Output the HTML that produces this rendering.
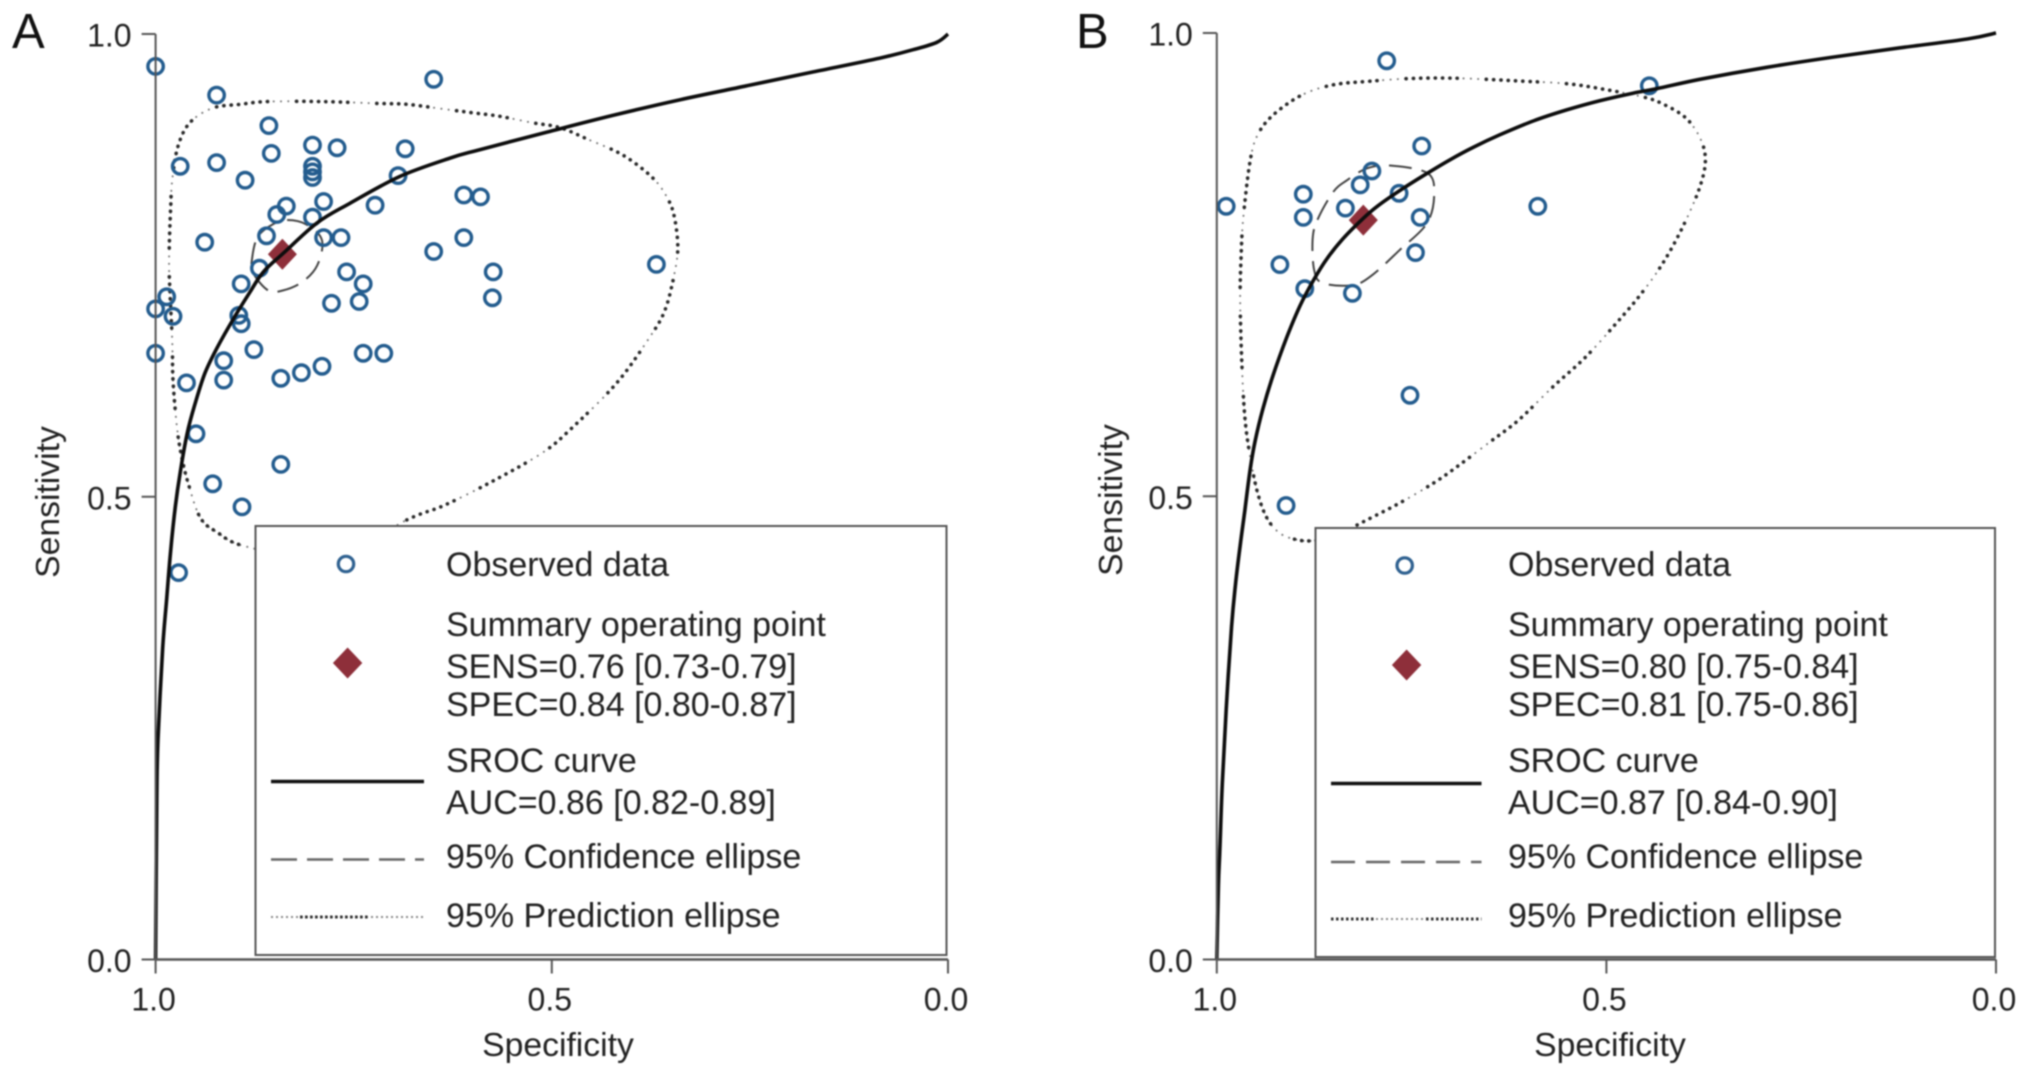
<!DOCTYPE html>
<html lang="en">
<head>
<meta charset="utf-8">
<title>SROC curves for panels A and B</title>
<style>
html,body{margin:0;padding:0;background:#fff;width:2032px;height:1077px;overflow:hidden}
svg{display:block;filter:blur(.7px)}
text{font-family:"Liberation Sans",sans-serif;fill:#222}
.tick{font-size:32px}
.title{font-size:33.7px}
.leg{font-size:34px}
.panel-letter{font-size:49px;fill:#111}
</style>
</head>
<body>
<svg id="chart" width="2032" height="1077" viewBox="0 0 2032 1077" xmlns="http://www.w3.org/2000/svg">
  <rect width="2032" height="1077" fill="#fff"/>

  <g id="panelA">
    <text class="panel-letter" x="12" y="48">A</text>
    <text class="title" transform="translate(59,502) rotate(-90)" text-anchor="middle">Sensitivity</text>
    <text class="title" x="558" y="1056" text-anchor="middle">Specificity</text>
    <g id="marksA"></g>
    <g>
      <rect x="255.5" y="526" width="691" height="429" fill="#fff" stroke="#555" stroke-width="2"/>
      <circle cx="346" cy="564" r="7.7" fill="none" stroke="#2f6190" stroke-width="3.2"/>
      <path d="M347.6 647.5L362.3 663L347.6 678.5L332.9 663Z" fill="#8e2f3a"/>
      <line x1="271" x2="424" y1="781.5" y2="781.5" stroke="#111" stroke-width="3.5"/>
      <line x1="271" x2="424" y1="859.5" y2="859.5" stroke="#666" stroke-width="2.5" stroke-dasharray="26 10"/>
      <line x1="271" x2="424" y1="917" y2="917" stroke="#888" stroke-width="2" stroke-dasharray="2 3"/>
      <line x1="300" x2="370" y1="917" y2="917" stroke="#333" stroke-width="3" stroke-dasharray="2.5 2.5"/>
      <text class="leg" x="446" y="576">Observed data</text>
      <text class="leg" x="446" y="636">Summary operating point</text>
      <text class="leg" x="446" y="678">SENS=0.76 [0.73-0.79]</text>
      <text class="leg" x="446" y="716">SPEC=0.84 [0.80-0.87]</text>
      <text class="leg" x="446" y="772">SROC curve</text>
      <text class="leg" x="446" y="814">AUC=0.86 [0.82-0.89]</text>
      <text class="leg" x="446" y="868">95% Confidence ellipse</text>
      <text class="leg" x="446" y="927">95% Prediction ellipse</text>
    </g>
    <g id="axesA"></g>
  </g>

  <g id="panelB">
    <text class="panel-letter" x="1076" y="48">B</text>
    <text class="title" transform="translate(1122,500) rotate(-90)" text-anchor="middle">Sensitivity</text>
    <text class="title" x="1610" y="1056" text-anchor="middle">Specificity</text>
    <g id="marksB"></g>
    <g>
      <rect x="1315.5" y="528" width="679.5" height="429" fill="#fff" stroke="#555" stroke-width="2"/>
      <circle cx="1404.7" cy="565.5" r="7.7" fill="none" stroke="#2f6190" stroke-width="3.2"/>
      <path d="M1406.6 649.5L1421.3 665L1406.6 680.5L1391.9 665Z" fill="#8e2f3a"/>
      <line x1="1331" x2="1481.5" y1="783.5" y2="783.5" stroke="#111" stroke-width="3.5"/>
      <line x1="1331" x2="1481.5" y1="862" y2="862" stroke="#666" stroke-width="2.5" stroke-dasharray="24 11"/>
      <line x1="1331" x2="1481.5" y1="919" y2="919" stroke="#888" stroke-width="2" stroke-dasharray="2 3"/>
      <line x1="1331" x2="1376" y1="919" y2="919" stroke="#333" stroke-width="3" stroke-dasharray="2.5 2.5"/>
      <line x1="1426" x2="1481.5" y1="919" y2="919" stroke="#333" stroke-width="3" stroke-dasharray="2.5 2.5"/>
      <text class="leg" x="1508" y="576">Observed data</text>
      <text class="leg" x="1508" y="636">Summary operating point</text>
      <text class="leg" x="1508" y="678">SENS=0.80 [0.75-0.84]</text>
      <text class="leg" x="1508" y="716">SPEC=0.81 [0.75-0.86]</text>
      <text class="leg" x="1508" y="772">SROC curve</text>
      <text class="leg" x="1508" y="814">AUC=0.87 [0.84-0.90]</text>
      <text class="leg" x="1508" y="868">95% Confidence ellipse</text>
      <text class="leg" x="1508" y="927">95% Prediction ellipse</text>
    </g>
    <g id="axesB"></g>
  </g>
</svg>

<script>
// Shared tick values and labels
const tickValues = [1.0, 0.5, 0.0];
const tickLabels = ["1.0", "0.5", "0.0"];

// Panel A: observed studies
const specA = [1.00,.923,.649,.857,.854,.802,.771,.685,.969,.923,.887,.802,.802,.802,.694,.611,.590,.788,.835,.847,.802,.723,.860,.788,.766,.938,.611,.649,.368,.869,.759,.574,.892,.738,.575,.986,.778,.743,1.00,.978,.895,.892,.876,1.00,.738,.712,.914,.914,.790,.816,.842,.961,.949,.842,.928,.891,.971];
const sensA = [.965,.934,.951,.901,.871,.880,.877,.876,.857,.861,.842,.857,.851,.845,.847,.826,.824,.819,.814,.805,.802,.815,.782,.780,.780,.775,.780,.765,.751,.747,.743,.743,.730,.730,.715,.716,.709,.711,.703,.695,.696,.687,.659,.655,.655,.655,.647,.626,.641,.634,.628,.623,.568,.535,.514,.489,.418];
const summarySpecA = 0.84;
const summarySensA = 0.762;

// Panel A: SROC curve
const curveSpecA = [0,.014,.044,.086,.170,.254,.338,.423,.506,.591,.628,.692,.755,.796,.839,.864,.881,.902,.923,.938,.950,.960,.969,.975,.981,.986,.991,.997,.9985,1];
const curveSensA = [1,.991,.983,.974,.959,.944,.929,.912,.894,.875,.866,.846,.817,.796,.763,.743,.721,.692,.660,.633,.601,.569,.526,.490,.442,.390,.337,.238,.174,0];

// Panel A: 95% confidence ellipse
const confSpecA = [.834,.809,.790,.796,.815,.839,.858,.877,.878,.871,.853];
const confSensA = [.799,.794,.777,.750,.732,.723,.723,.742,.759,.781,.794];

// Panel A: 95% prediction ellipse
const predSpecA = [.683,.635,.572,.511,.475,.418,.376,.357,.345,.341,.345,.353,.372,.410,.454,.490,.524,.565,.601,.637,.683,.721,.789,.859,.893,.928,.957,.972,.979,.981,.983,.982,.979,.978,.973,.967,.959,.944,.923,.885,.780];
const predSensA = [.475,.491,.518,.548,.574,.623,.673,.702,.742,.770,.801,.821,.844,.869,.886,.899,.904,.911,.915,.919,.924,.925,.927,.927,.924,.920,.904,.878,.842,.813,.759,.723,.669,.626,.575,.543,.515,.478,.462,.446,.432];

// Panel B: observed studies
const specB = [.782,.445,.737,.801,.816,.766,.889,.988,.889,.835,.588,.739,.745,.919,.887,.826,.752,.911];
const sensB = [.970,.943,.878,.851,.836,.827,.826,.813,.801,.811,.813,.801,.763,.750,.724,.719,.609,.490];
const summarySpecB = 0.812;
const summarySensB = 0.798;

// Panel B: SROC curve
const curveSpecB = [0,.037,.123,.209,.294,.380,.435,.466,.508,.551,.594,.637,.670,.701,.735,.765,.794,.812,.838,.859,.876,.893,.910,.928,.941,.951,.957,.964,.970,.976,.981,.988,.993,.996,.998,1];
const curveSensB = [1,.9935,.984,.974,.963,.950,.940,.935,.927,.917,.905,.890,.877,.863,.846,.830,.813,.800,.778,.756,.733,.706,.672,.630,.594,.559,.530,.485,.447,.405,.360,.270,.190,.120,.080,0];

// Panel B: 95% confidence ellipse
const confSpecB = [.778,.730,.721,.730,.765,.800,.825,.864,.875,.877,.871,.851,.833,.807];
const confSensB = [.857,.849,.827,.795,.766,.739,.728,.730,.744,.777,.798,.828,.841,.854];

// Panel B: 95% prediction ellipse
const predSpecB = [.820,.769,.726,.698,.652,.613,.570,.527,.486,.454,.425,.399,.380,.373,.380,.399,.429,.453,.495,.547,.607,.684,.748,.803,.851,.891,.927,.947,.957,.966,.969,.970,.968,.964,.957,.948,.936,.919,.897,.877,.848];
const predSensB = [.469,.491,.512,.528,.557,.582,.617,.650,.688,.720,.755,.796,.834,.863,.887,.909,.924,.931,.938,.945,.948,.951,.951,.948,.944,.933,.912,.891,.863,.801,.755,.709,.647,.585,.542,.505,.477,.460,.453,.452,.456];

const NS = "http://www.w3.org/2000/svg";

function makeX(left, right) {
  return function (spec) { return right + (left - right) * spec; };
}
function makeY(top, bottom) {
  return function (sens) { return bottom + (top - bottom) * sens; };
}
function smoothPath(xs, ys, closed) {
  const n = xs.length;
  const at = function (i) {
    if (closed) { i = (i + n) % n; } else { i = Math.max(0, Math.min(n - 1, i)); }
    return [xs[i], ys[i]];
  };
  let d = "M" + xs[0].toFixed(1) + " " + ys[0].toFixed(1);
  const last = closed ? n : n - 1;
  for (let i = 0; i < last; i++) {
    const p0 = at(i - 1), p1 = at(i), p2 = at(i + 1), p3 = at(i + 2);
    const c1x = p1[0] + (p2[0] - p0[0]) / 6, c1y = p1[1] + (p2[1] - p0[1]) / 6;
    const c2x = p2[0] - (p3[0] - p1[0]) / 6, c2y = p2[1] - (p3[1] - p1[1]) / 6;
    d += "C" + c1x.toFixed(1) + " " + c1y.toFixed(1) + " " + c2x.toFixed(1) + " " + c2y.toFixed(1) + " " + p2[0].toFixed(1) + " " + p2[1].toFixed(1);
  }
  return closed ? d + "Z" : d;
}
function darkDotPattern() {
  const parts = [];
  for (let i = 0; i < 8; i++) {
    parts.push("0.1");
    parts.push(i === 7 ? "29" : "7.2");
  }
  return parts.join(" ");
}
function drawPanel(cfg) {
  const x = makeX(cfg.left, cfg.right);
  const y = makeY(cfg.top, cfg.bottom);
  const marks = document.getElementById(cfg.marksId);
  const axes = document.getElementById(cfg.axesId);
  const predD = smoothPath(cfg.predSpec.map(x), cfg.predSens.map(y), true);

  const pred = document.createElementNS(NS, "path");
  
  
  pred.setAttribute("d", predD);
  pred.setAttribute("fill", "none");
  pred.setAttribute("stroke", "#777");
  pred.setAttribute("stroke-width", "2");
  pred.setAttribute("stroke-linecap", "round");
  pred.setAttribute("stroke-dasharray", "0.1 7.2");
  marks.appendChild(pred);

  const predDark = document.createElementNS(NS, "path");
  
  
  predDark.setAttribute("d", predD);
  predDark.setAttribute("fill", "none");
  predDark.setAttribute("stroke", "#2a2a2a");
  predDark.setAttribute("stroke-width", "3.6");
  predDark.setAttribute("stroke-linecap", "round");
  predDark.setAttribute("stroke-dasharray", darkDotPattern());
  marks.appendChild(predDark);

  const conf = document.createElementNS(NS, "path");
  
  
  conf.setAttribute("d", smoothPath(cfg.confSpec.map(x), cfg.confSens.map(y), true));
  conf.setAttribute("fill", "none");
  conf.setAttribute("stroke", "#444");
  conf.setAttribute("stroke-width", "2");
  conf.setAttribute("stroke-dasharray", "22 10");
  marks.appendChild(conf);

  cfg.spec.forEach(function (s, i) {
    const pt = document.createElementNS(NS, "circle");
    
    
    pt.setAttribute("cx", x(s).toFixed(1));
    pt.setAttribute("cy", y(cfg.sens[i]).toFixed(1));
    pt.setAttribute("r", "7.7");
    pt.setAttribute("fill", "none");
    pt.setAttribute("stroke", "#235c8e");
    pt.setAttribute("stroke-width", "3.4");
    marks.appendChild(pt);
  });

  const sx = x(cfg.summarySpec), sy = y(cfg.summarySens);
  const diamond = document.createElementNS(NS, "path");
  
  
  diamond.setAttribute("d", "M" + sx + " " + (sy - 15.5) + "L" + (sx + 14.5) + " " + sy + "L" + sx + " " + (sy + 15.5) + "L" + (sx - 14.5) + " " + sy + "Z");
  diamond.setAttribute("fill", "#8e2f3a");
  marks.appendChild(diamond);

  const curve = document.createElementNS(NS, "path");
  
  
  curve.setAttribute("d", smoothPath(cfg.curveSpec.map(x), cfg.curveSens.map(y), false));
  curve.setAttribute("fill", "none");
  curve.setAttribute("stroke", "#0d0d0d");
  curve.setAttribute("stroke-width", "3.6");
  marks.appendChild(curve);

  const yAxis = document.createElementNS(NS, "line");
  
  
  yAxis.setAttribute("x1", x(1));
  yAxis.setAttribute("x2", x(1));
  yAxis.setAttribute("y1", y(1));
  yAxis.setAttribute("y2", y(0));
  yAxis.setAttribute("stroke", "#555");
  yAxis.setAttribute("stroke-width", "2");
  axes.appendChild(yAxis);

  const xAxis = document.createElementNS(NS, "line");
  
  
  xAxis.setAttribute("x1", x(1));
  xAxis.setAttribute("x2", x(0));
  xAxis.setAttribute("y1", y(0));
  xAxis.setAttribute("y2", y(0));
  xAxis.setAttribute("stroke", "#555");
  xAxis.setAttribute("stroke-width", "2.5");
  axes.appendChild(xAxis);

  tickValues.forEach(function (v, i) {
    const yt = document.createElementNS(NS, "line");
    
    
    yt.setAttribute("x1", x(1) - 14);
    yt.setAttribute("x2", x(1));
    yt.setAttribute("y1", y(v));
    yt.setAttribute("y2", y(v));
    yt.setAttribute("stroke", "#555");
    yt.setAttribute("stroke-width", "2");
    axes.appendChild(yt);

    const yl = document.createElementNS(NS, "text");
    
    
    yl.setAttribute("class", "tick");
    yl.setAttribute("x", x(1) - 24);
    yl.setAttribute("y", y(v) + 12.5);
    yl.setAttribute("text-anchor", "end");
    yl.textContent = tickLabels[i];
    axes.appendChild(yl);

    const xt = document.createElementNS(NS, "line");
    
    
    xt.setAttribute("x1", x(v));
    xt.setAttribute("x2", x(v));
    xt.setAttribute("y1", y(0));
    xt.setAttribute("y2", y(0) + 14);
    xt.setAttribute("stroke", "#555");
    xt.setAttribute("stroke-width", "2");
    axes.appendChild(xt);

    const xl = document.createElementNS(NS, "text");
    
    
    xl.setAttribute("class", "tick");
    xl.setAttribute("x", x(v) - 2);
    xl.setAttribute("y", y(0) + 51);
    xl.setAttribute("text-anchor", "middle");
    xl.textContent = tickLabels[i];
    axes.appendChild(xl);
  });
}

drawPanel({
  marksId: "marksA", axesId: "axesA",
  left: 155.6, right: 948, top: 34, bottom: 959.5,
  spec: specA, sens: sensA,
  summarySpec: summarySpecA, summarySens: summarySensA,
  curveSpec: curveSpecA, curveSens: curveSensA,
  confSpec: confSpecA, confSens: confSensA,
  predSpec: predSpecA, predSens: predSensA
});
drawPanel({
  marksId: "marksB", axesId: "axesB",
  left: 1216.8, right: 1996, top: 33, bottom: 959.5,
  spec: specB, sens: sensB,
  summarySpec: summarySpecB, summarySens: summarySensB,
  curveSpec: curveSpecB, curveSens: curveSensB,
  confSpec: confSpecB, confSens: confSensB,
  predSpec: predSpecB, predSens: predSensB
});
</script>
</body>
</html>
